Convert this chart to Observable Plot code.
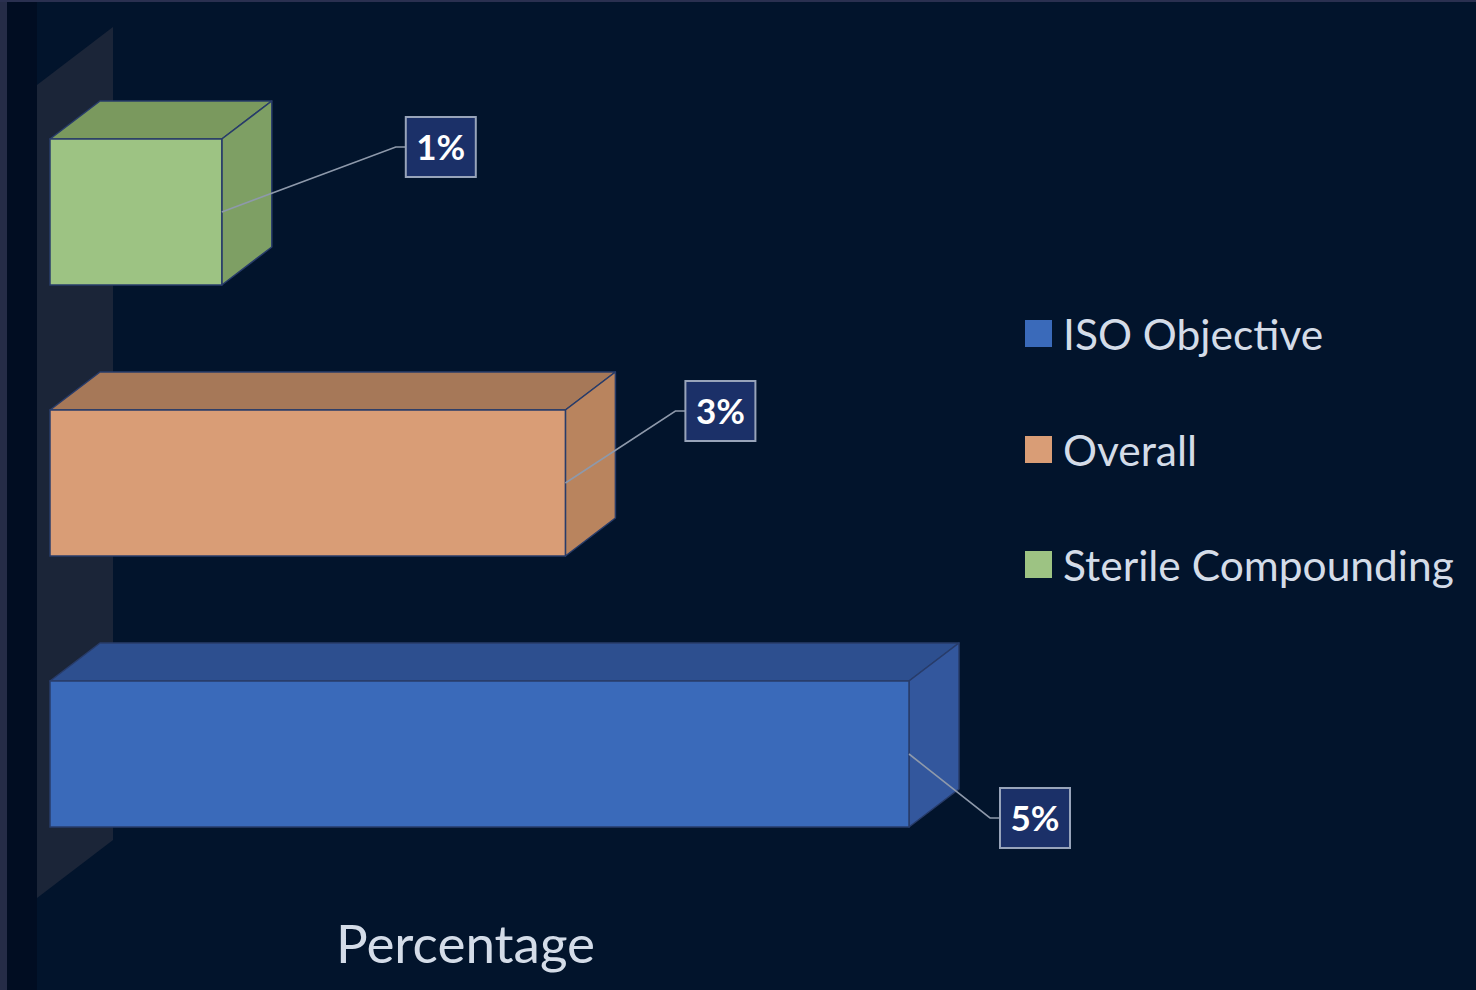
<!DOCTYPE html>
<html>
<head>
<meta charset="utf-8">
<script src="https://cdn.jsdelivr.net/npm/d3@7"></script>
<script src="https://cdn.jsdelivr.net/npm/@observablehq/plot@0.6"></script>
<style>
  html, body { margin: 0; padding: 0; background: #02142c; }
  #wrap { position: relative; width: 1476px; height: 990px; overflow: hidden; background: #02142c; }
  #edgeL { position: absolute; left: 0; top: 0; width: 7px; height: 990px; background: #252c47; }
  #edgeT { position: absolute; left: 0; top: 0; width: 1476px; height: 2px; background: #2a3050; }
  #dark { position: absolute; left: 7px; top: 2px; width: 30px; height: 988px; background: #010d22; }
  #chart { position: absolute; left: 0; top: 0; }
  #legend { position: absolute; left: 1025px; top: 276px; width: 451px; }
  .lg-swatches { font-family: Lato, "Open Sans", sans-serif !important; font-size: 42.5px !important; color: #d4dce8 !important; margin: 0 !important; }
  .lg-swatch { height: 115.5px !important; padding: 0 !important; display: flex !important; align-items: center !important; }
  .lg-swatch > svg { margin-right: 11px !important; }
</style>
</head>
<body>
<div id="wrap">
  <div id="edgeL"></div>
  <div id="edgeT"></div>
  <div id="dark"></div>
  <div id="chart"></div>
  <div id="legend"></div>
</div>
<script>
// ---- data ----
const categories = ["Sterile Compounding", "Overall", "ISO Objective"];
const values = [1, 3, 5];
const valueLabels = ["1%", "3%", "5%"];
const legendOrder = ["ISO Objective", "Overall", "Sterile Compounding"];
const axisTitle = "Percentage";

// ---- styles (per category, same order as legendOrder) ----
const frontColors = ["#3a6aba", "#d99d76", "#9dc383"];
const topColors   = ["#2d4f8f", "#a67858", "#7a995e"];
const sideColors  = ["#33579d", "#b9845e", "#7e9f64"];
// label placement offsets (px) relative to bar end, per category order
const labelOffsets = [[184, -65], [120, -72], [91, 64]];

const data = categories.map((c, i) => ({cat: c, value: values[i], label: valueLabels[i]}));
const colorOf = (arr, cat) => arr[legendOrder.indexOf(cat)];

const DX = 50, DY = 38; // 3D depth
const outline = "#283c6a";

function bw(scales) {
  return typeof scales.y.bandwidth === "function" ? scales.y.bandwidth() : scales.scales.y.bandwidth;
}

// back wall
function wallMark(index, scales) {
  const x0 = scales.x(0);
  const yr = scales.y.range();
  const g = d3.create("svg:g");
  const fx = x0 - 13, bx = x0 + 63;
  const ft = yr[0] - 53, fb = yr[1] + 70;
  g.append("polygon")
    .attr("points", [[fx, ft], [bx, ft - 58], [bx, fb - 58], [fx, fb]].map(p => p.join(",")).join(" "))
    .attr("fill", "#1c2639")
    .attr("opacity", 0.95);
  return g.node();
}

// top and side faces
function depthFaces(index, scales) {
  const g = d3.create("svg:g");
  const h = bw(scales);
  for (const d of data) {
    const x1 = scales.x(0), x2 = scales.x(d.value), y = scales.y(d.cat);
    g.append("polygon")
      .attr("points", [[x1, y], [x2, y], [x2 + DX, y - DY], [x1 + DX, y - DY]].map(p => p.join(",")).join(" "))
      .attr("fill", colorOf(topColors, d.cat)).attr("stroke", outline).attr("stroke-width", 1.5)
      .attr("stroke-linejoin", "round");
    g.append("polygon")
      .attr("points", [[x2, y], [x2 + DX, y - DY], [x2 + DX, y + h - DY], [x2, y + h]].map(p => p.join(",")).join(" "))
      .attr("fill", colorOf(sideColors, d.cat)).attr("stroke", outline).attr("stroke-width", 1.5)
      .attr("stroke-linejoin", "round");
  }
  return g.node();
}

// leader lines and boxed labels
function labelMark(index, scales) {
  const g = d3.create("svg:g");
  const h = bw(scales);
  data.forEach((d, i) => {
    const sx = scales.x(d.value), sy = scales.y(d.cat) + h / 2;
    const [ox, oy] = labelOffsets[i];
    const bx = sx + ox, by = sy + oy;
    g.append("polyline")
      .attr("points", [[sx, sy], [bx - 10, by], [bx, by]].map(p => p.join(",")).join(" "))
      .attr("fill", "none").attr("stroke", "#8e99ab").attr("stroke-width", 1.6);
    g.append("rect")
      .attr("x", bx).attr("y", by - 30).attr("width", 70).attr("height", 60)
      .attr("fill", "#1b3068").attr("stroke", "#98a4ba").attr("stroke-width", 2);
    g.append("text")
      .attr("x", bx + 35).attr("y", by).attr("dy", "0.36em")
      .attr("text-anchor", "middle")
      .attr("font-family", "Lato, 'Open Sans', sans-serif")
      .attr("font-weight", "bold").attr("font-size", 35)
      .attr("fill", "#ffffff")
      .text(d.label);
  });
  return g.node();
}

const chart = Plot.plot({
  width: 1476,
  height: 990,
  marginLeft: 0,
  marginRight: 546,
  marginTop: 0,
  marginBottom: 28,
  style: {background: "transparent", overflow: "visible"},
  x: {domain: [0, 5], range: [50, 909], axis: null},
  y: {domain: categories, range: [138, 828], paddingInner: 0.463, paddingOuter: 0, axis: null},
  color: {domain: legendOrder, range: frontColors},
  marks: [
    wallMark,
    depthFaces,
    Plot.barX(data, {x: "value", y: "cat", fill: "cat", stroke: outline, strokeWidth: 1.5}),
    labelMark,
    Plot.text([axisTitle], {frameAnchor: "bottom", lineAnchor: "bottom", text: d => d,
      fontSize: 53, fill: "#d4dce8", fontFamily: "Lato, 'Open Sans', sans-serif"})
  ]
});
document.getElementById("chart").appendChild(chart);

const legend = chart.legend("color", {legend: "swatches", columns: 1, swatchSize: 27, className: "lg"});
document.getElementById("legend").appendChild(legend);
</script>
</body>
</html>
